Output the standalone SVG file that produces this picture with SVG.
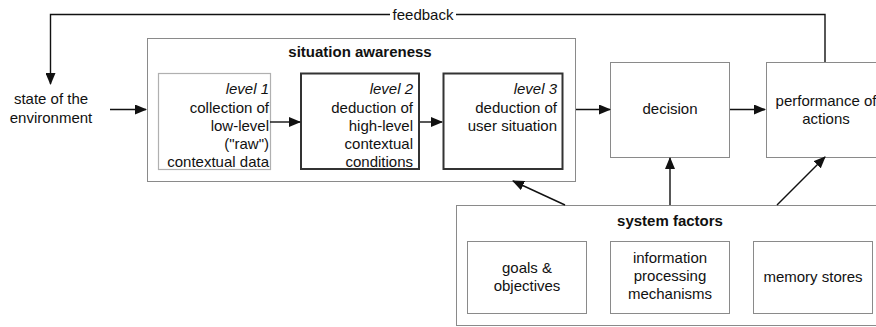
<svg xmlns="http://www.w3.org/2000/svg" width="876" height="327" viewBox="0 0 876 327">
<style>
text{font-family:"Liberation Sans",Arial,sans-serif;font-size:15px;fill:#111}
.b{font-weight:bold}
.i{font-style:italic}
.r{text-anchor:end}
.c{text-anchor:middle}
.box{fill:#fff;stroke:#8a8a8a;stroke-width:1}
.light{fill:#fff;stroke:#b0b0b0;stroke-width:1.2}
.dark{fill:#fff;stroke:#333;stroke-width:2}
.ln{fill:none;stroke:#111;stroke-width:1.4}
</style>
<defs>
<marker id="ah" markerWidth="12" markerHeight="10" refX="11" refY="5" orient="auto" markerUnits="userSpaceOnUse">
<path d="M0,0 L12,5 L0,10 Z" fill="#111"/>
</marker>
</defs>
<rect width="876" height="327" fill="#fff"/>
<g id="state">
<text class="c" x="51" y="104">state of the</text>
<text class="c" x="51" y="123">environment</text>
</g>
<g id="situation-awareness">
<rect class="box" x="147.5" y="38.5" width="428" height="143"/>
<text class="b c" x="360" y="57">situation awareness</text>
</g>
<g id="level1">
<rect class="light" x="158.5" y="73.5" width="112" height="96"/>
<text class="r" x="269" y="94"><tspan class="i">level 1</tspan></text>
<text class="r" x="269" y="113">collection of</text>
<text class="r" x="269" y="131">low-level</text>
<text class="r" x="269" y="149">("raw")</text>
<text class="r" x="269" y="167">contextual data</text>
</g>
<g id="level2">
<rect class="dark" x="301" y="73.5" width="118" height="95.5"/>
<text class="r" x="413" y="94"><tspan class="i">level 2</tspan></text>
<text class="r" x="413" y="113">deduction of</text>
<text class="r" x="413" y="131">high-level</text>
<text class="r" x="413" y="149">contextual</text>
<text class="r" x="413" y="167">conditions</text>
</g>
<g id="level3">
<rect class="dark" x="443.5" y="73.5" width="119" height="95.5"/>
<text class="r" x="557" y="94"><tspan class="i">level 3</tspan></text>
<text class="r" x="557" y="113">deduction of</text>
<text class="r" x="557" y="131">user situation</text>
</g>
<g id="decision">
<rect class="box" x="610.5" y="62.5" width="119" height="95"/>
<text class="c" x="670" y="114">decision</text>
</g>
<g id="performance">
<rect class="box" x="766.5" y="62.5" width="119" height="95"/>
<text class="c" x="826" y="106">performance of</text>
<text class="c" x="826" y="124">actions</text>
</g>
<g id="system-factors">
<rect class="box" x="456.5" y="205.5" width="430" height="120"/>
<text class="b c" x="670" y="226">system factors</text>
</g>
<g id="goals">
<rect class="box" x="467.5" y="241.5" width="119" height="72"/>
<text class="c" x="527" y="273">goals &amp;</text>
<text class="c" x="527" y="291">objectives</text>
</g>
<g id="information">
<rect class="box" x="610.5" y="241.5" width="119" height="72"/>
<text class="c" x="670" y="263">information</text>
<text class="c" x="670" y="281">processing</text>
<text class="c" x="670" y="299">mechanisms</text>
</g>
<g id="memory">
<rect class="box" x="753.5" y="241.5" width="119" height="72"/>
<text class="c" x="813" y="282">memory stores</text>
</g>
<g id="connectors">
<path class="ln" d="M825,62 V14.5 H456"/>
<path class="ln" d="M390,14.5 H50.5 V84" marker-end="url(#ah)"/>
<text class="c" x="423" y="19.5">feedback</text>
<path class="ln" d="M110,109.5 H146" marker-end="url(#ah)"/>
<path class="ln" d="M270,122 H300" marker-end="url(#ah)"/>
<path class="ln" d="M420,122 H442" marker-end="url(#ah)"/>
<path class="ln" d="M576,109.5 H610" marker-end="url(#ah)"/>
<path class="ln" d="M730,109.5 H765" marker-end="url(#ah)"/>
<path class="ln" d="M565,205 L513,181" marker-end="url(#ah)"/>
<path class="ln" d="M670,205 V158" marker-end="url(#ah)"/>
<path class="ln" d="M777,205 L825,157" marker-end="url(#ah)"/>
</g>
</svg>
